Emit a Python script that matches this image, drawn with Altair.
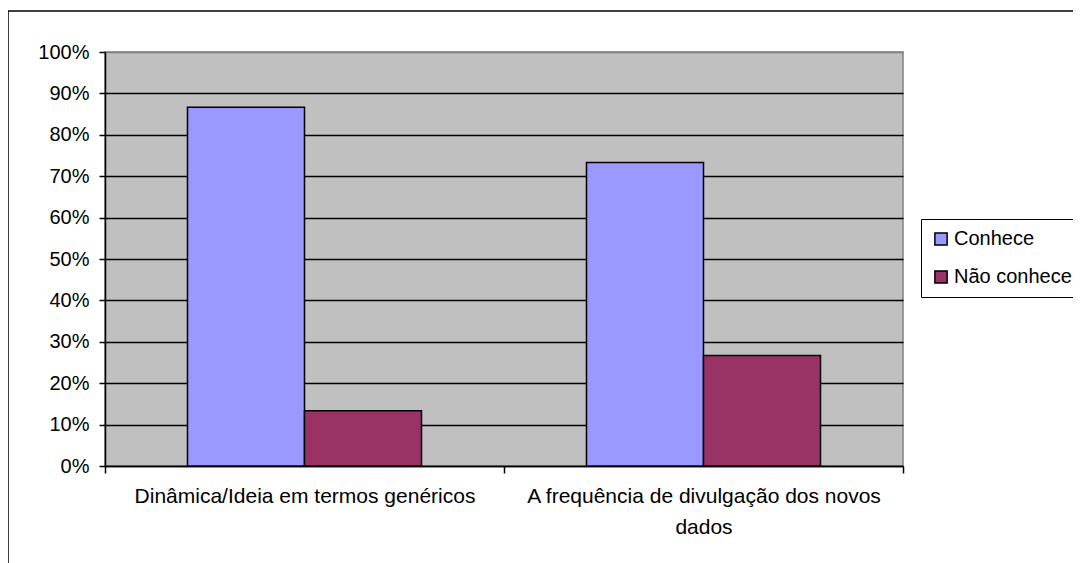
import altair as alt
import pandas as pd

categories = ["Dinâmica/Ideia em termos genéricos", "A frequência de divulgação dos novos dados"]
series = ["Conhece", "Não conhece"]
conhece = [0.8667, 0.7333]
nao_conhece = [0.1333, 0.2667]
colors = ["#9999FF", "#993366"]
y_ticks = [i / 10 for i in range(11)]

rows = []
for c, a, b in zip(categories, conhece, nao_conhece):
    rows.append({"cat": c, "serie": series[0], "val": a})
    rows.append({"cat": c, "serie": series[1], "val": b})
df = pd.DataFrame(rows)

FONT = "Liberation Sans"

label_expr = ("datum.value == '" + categories[1] + "' ? "
              "['A frequência de divulgação dos novos', 'dados'] : datum.value")

bars = alt.Chart(df).mark_bar(stroke="black", strokeWidth=1.5).encode(
    x=alt.X("cat:N", sort=categories, title=None,
            scale=alt.Scale(paddingInner=0, paddingOuter=0),
            axis=alt.Axis(labelAngle=0, tickBand="extent", tickSize=7,
                          tickColor="black", domainColor="black", domainWidth=1.5,
                          tickWidth=1.5, labelExpr=label_expr, labelLimit=1000,
                          labelLineHeight=31, labelPadding=12, labelFont=FONT,
                          labelFontSize=21, labelColor="black")),
    xOffset=alt.XOffset("serie:N", sort=series,
                        scale=alt.Scale(paddingInner=0, paddingOuter=0.705)),
    y=alt.Y("val:Q", title=None,
            scale=alt.Scale(domain=[0, 1], nice=False),
            axis=alt.Axis(values=y_ticks, format=".0%", tickSize=6,
                          tickColor="black", tickWidth=1.5, domainColor="black",
                          domainWidth=1.5, grid=True,
                          gridColor=alt.condition("datum.value >= 1", alt.value("#808080"), alt.value("black")),
                          gridWidth=1.5, labelPadding=10, labelFont=FONT,
                          labelFontSize=20, labelColor="black")),
    color=alt.Color("serie:N", sort=series,
                    scale=alt.Scale(domain=series, range=colors),
                    legend=alt.Legend(title=None, orient="none", legendX=816, legendY=167,
                                      strokeColor="black", fillColor="white",
                                      padding=10, rowPadding=18, symbolType="square",
                                      symbolSize=150, symbolStrokeColor="black",
                                      symbolStrokeWidth=1.5, labelFont=FONT,
                                      labelFontSize=20, labelOffset=3, labelLimit=1000,
                                      labelColor="black")),
)

frame = alt.Chart(alt.Data(values=[{}])).mark_rect(
    fill="white", fillOpacity=0, stroke="black", strokeWidth=1.5
).encode(
    x=alt.value(-97), x2=alt.value(1200), y=alt.value(-41), y2=alt.value(800)
)

chart = alt.layer(frame, bars).properties(
    width=798, height=414,
    background="white",
    padding={"left": 97, "top": 44, "right": 170, "bottom": 97},
    autosize=alt.AutoSizeParams(type="none"),
).configure_view(
    fill="#C0C0C0", stroke="#808080", strokeWidth=1.5
)

chart.save("out.html", embed_options={"renderer": "svg", "actions": False})
